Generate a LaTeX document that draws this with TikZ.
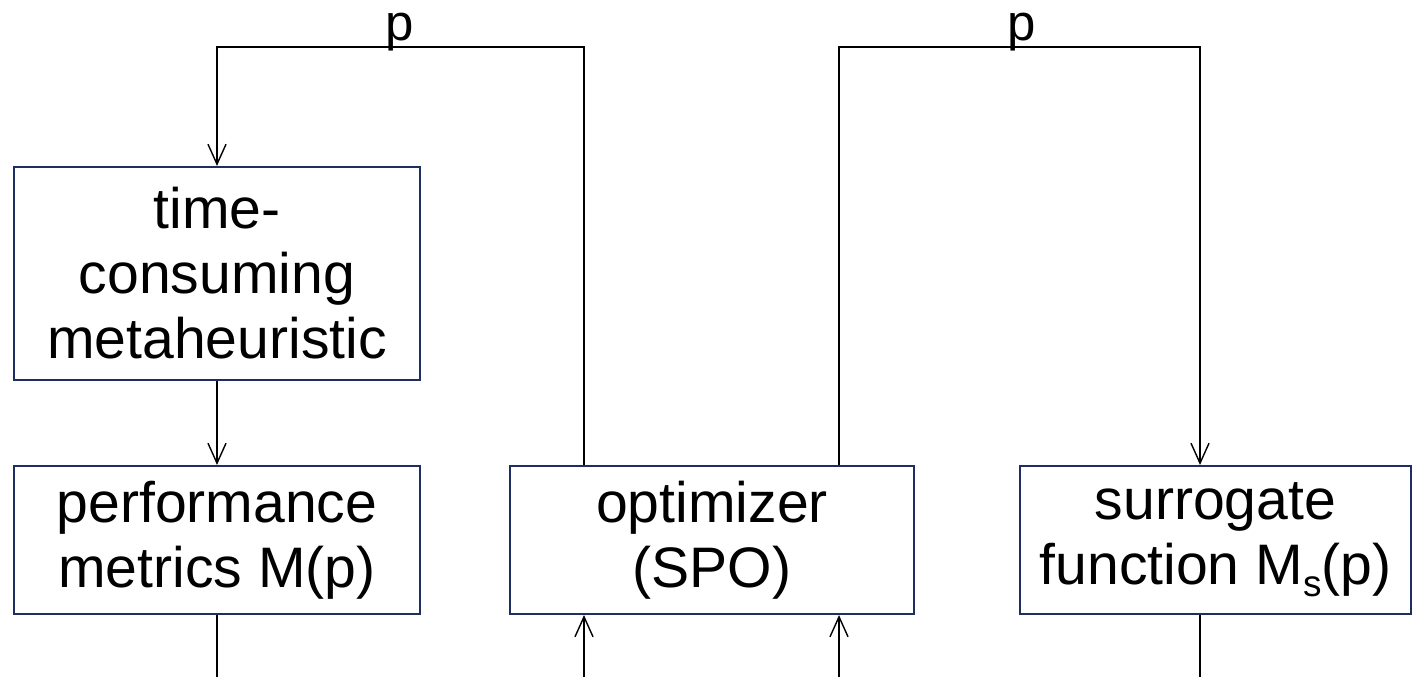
\documentclass[tikz,border=0pt]{standalone}
\usepackage{fontspec}
\setmainfont{Liberation Sans}
\usepackage{xcolor}
\usepackage{tikz}
\usetikzlibrary{positioning}
\usetikzlibrary{calc,arrows.meta}

\definecolor{boxnavy}{RGB}{31,46,96}

% lowered subscript as in the reference
\newcommand{\lowsub}[1]{\raisebox{-7pt}{\fontsize{21}{21}\selectfont #1}}

\tikzset{
	blockbox/.style={draw=boxnavy, line width=1.2pt, align=center, inner sep=0pt,
		font=\fontsize{32.5}{37}\selectfont},
	flowline/.style={draw=black, line width=0.8pt},
	flowarrow/.style={flowline, -{Straight Barb[length=4mm, width=3.6mm, line width=0.8pt]}},
	plabel/.style={anchor=base, inner sep=0pt, text height=1.1ex, text depth=0.2em,
		font=\fontsize{29}{34}\selectfont}
}

\begin{document}
\begin{tikzpicture}

	% Proper size --- Bounding box
	\useasboundingbox (0.00cm, 0.00cm) rectangle (28.24cm, 13.54cm);

	% Blocks
	\node[blockbox, minimum width=8.12cm, minimum height=4.26cm] (tcm) at (4.34cm, 8.07cm) {time-\\consuming\\metaheuristic};
	\node[blockbox, minimum width=8.12cm, minimum height=2.96cm] (perf) at (4.34cm, 2.74cm) {performance\\metrics M(p)};
	\node[blockbox, minimum width=8.08cm, minimum height=2.96cm] (opt) at (14.24cm, 2.74cm) {optimizer\\(SPO)};
	\node[blockbox, minimum width=7.82cm, minimum height=2.96cm] (surr) at (24.31cm, 2.74cm) {surrogate\\function M\lowsub{s}(p)};

	% Corners of the two parameter loops
	\coordinate (L1) at (11.68cm, 12.60cm);
	\coordinate (R1) at (16.78cm, 12.60cm);
	\coordinate (R2) at (24.00cm, 12.60cm);

	% Free ends at the bottom edge
	\coordinate (PB) at (4.34cm, 0.00cm);
	\coordinate (OB1) at (11.68cm, 0.00cm);
	\coordinate (OB2) at (16.78cm, 0.00cm);
	\coordinate (SB) at (24.00cm, 0.00cm);

	% Labels on the loops
	\node[plabel] (pleft) at (8.00cm, 12.72cm) {p};
	\node[plabel] (pright) at (20.44cm, 12.72cm) {p};

	% Loops
	\draw[flowarrow] (opt.north -| L1) -- (L1) -| (tcm.north);
	\draw[flowarrow] (opt.north -| R1) -- (R1) -- (R2) -- (surr.north -| R2);

	% Vertical links
	\draw[flowarrow] (tcm.south) -- (perf.north);
	\draw[flowline] (perf.south) -- (PB);
	\draw[flowarrow] (OB1) -- (opt.south -| OB1);
	\draw[flowarrow] (OB2) -- (opt.south -| OB2);
	\draw[flowline] (surr.south -| SB) -- (SB);

\end{tikzpicture}
\end{document}
